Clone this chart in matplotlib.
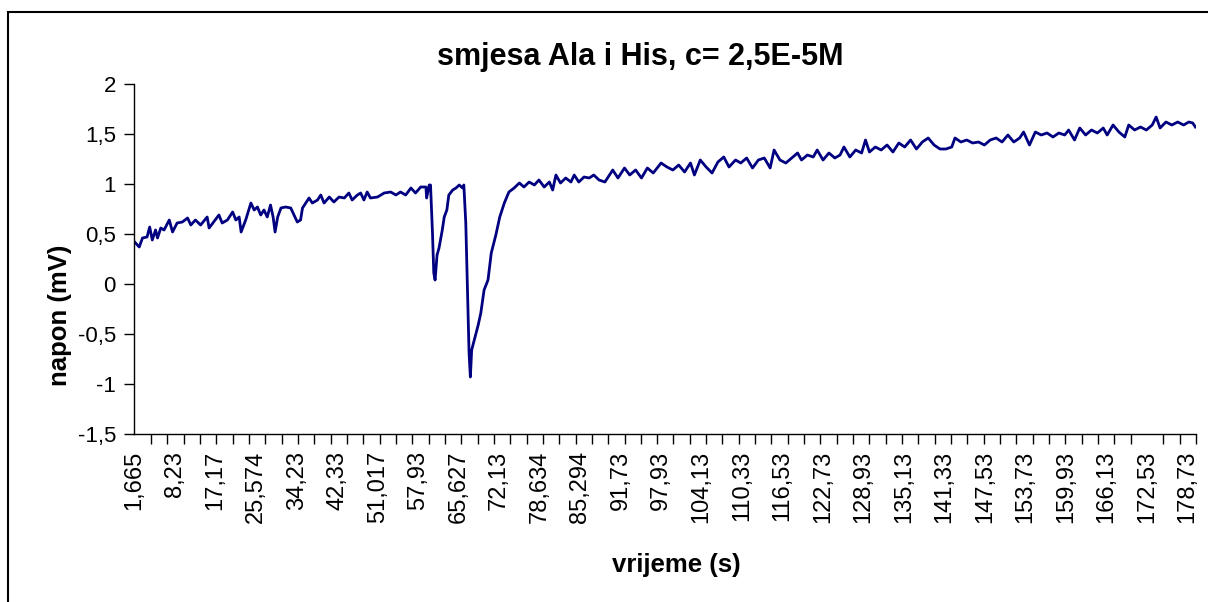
import matplotlib
matplotlib.use('Agg')
import matplotlib.pyplot as plt
from matplotlib.patches import Rectangle
from matplotlib.ticker import FixedLocator, MultipleLocator

plt.rcParams['font.family'] = ['Liberation Sans', 'DejaVu Sans']

# x axis is a category axis: one category per sample
n_samples = 1625
label_every = 62
tick_every = 25

time_labels = ['1,665', '8,23', '17,17', '25,574', '34,23', '42,33', '51,017',
               '57,93', '65,627', '72,13', '78,634', '85,294', '91,73', '97,93',
               '104,13', '110,33', '116,53', '122,73', '128,93', '135,13',
               '141,33', '147,53', '153,73', '159,93', '166,13', '172,53',
               '178,73']

# sample index / voltage (mV)
sample_idx = [
    0, 7, 12, 19, 23, 27, 32, 35, 40, 45, 53, 58, 65, 73, 81, 86, 93, 101,
    111, 114, 121, 129, 134, 142, 150, 155, 160, 163, 170, 178, 183, 188, 193,
    198, 203, 208, 212, 215, 219, 224, 231, 239, 244, 249, 254, 257, 262, 267,
    272, 280, 285, 290, 298, 305, 313, 321, 328, 333, 341, 346, 351, 356, 361,
    372, 382, 392, 400, 407, 415, 423, 430, 438, 446, 447, 451, 453, 456, 458,
    460, 463, 466, 471, 474, 478, 481, 487, 492, 497, 502, 504, 507, 510, 512,
    514, 516, 520, 526, 530, 535, 541, 546, 553, 559, 566, 573, 581, 589, 596,
    604, 612, 619, 627, 635, 640, 645, 652, 660, 668, 673, 680, 688, 696, 703,
    711, 720, 732, 740, 750, 758, 767, 776, 785, 794, 806, 815, 824, 833, 842,
    851, 857, 866, 875, 884, 893, 902, 910, 920, 928, 937, 946, 955, 964, 973,
    979, 988, 997, 1006, 1015, 1021, 1030, 1039, 1045, 1054, 1063, 1072, 1080,
    1086, 1095, 1104, 1113, 1119, 1125, 1134, 1143, 1152, 1161, 1170, 1179,
    1188, 1197, 1206, 1215, 1224, 1233, 1242, 1251, 1256, 1265, 1274, 1283,
    1292, 1301, 1310, 1319, 1328, 1337, 1346, 1355, 1361, 1370, 1379, 1388,
    1397, 1406, 1415, 1424, 1430, 1439, 1447, 1456, 1465, 1474, 1483, 1489,
    1498, 1507, 1516, 1522, 1531, 1540, 1549, 1558, 1564, 1570, 1579, 1588,
    1597, 1606, 1614, 1620, 1624]
voltage = [
    0.42, 0.37, 0.46, 0.47, 0.57, 0.44, 0.54, 0.46, 0.56, 0.54, 0.64, 0.52,
    0.61, 0.62, 0.66, 0.59, 0.64, 0.59, 0.67, 0.56, 0.62, 0.69, 0.61, 0.64,
    0.72, 0.64, 0.67, 0.52, 0.64, 0.81, 0.74, 0.77, 0.69, 0.74, 0.67, 0.79,
    0.67, 0.52, 0.67, 0.76, 0.77, 0.76, 0.69, 0.62, 0.64, 0.76, 0.81, 0.86,
    0.81, 0.84, 0.89, 0.81, 0.87, 0.82, 0.87, 0.86, 0.91, 0.84, 0.89, 0.91,
    0.84, 0.92, 0.86, 0.87, 0.91, 0.92, 0.89, 0.92, 0.89, 0.96, 0.91, 0.97,
    0.97, 0.86, 0.99, 0.99, 0.51, 0.11, 0.04, 0.29, 0.36, 0.54, 0.67, 0.74,
    0.89, 0.94, 0.96, 0.99, 0.96, 0.99, 0.61, -0.16, -0.69, -0.93, -0.66,
    -0.56, -0.41, -0.29, -0.06, 0.04, 0.31, 0.49, 0.67, 0.81, 0.92, 0.96,
    1.01, 0.97, 1.02, 0.99, 1.04, 0.97, 1.02, 0.94, 1.09, 1.01, 1.06, 1.02,
    1.09, 1.02, 1.07, 1.06, 1.09, 1.04, 1.02, 1.14, 1.06, 1.16, 1.09, 1.14,
    1.06, 1.16, 1.11, 1.21, 1.17, 1.14, 1.19, 1.12, 1.21, 1.09, 1.24, 1.17,
    1.11, 1.22, 1.27, 1.17, 1.24, 1.21, 1.26, 1.16, 1.24, 1.26, 1.16, 1.34,
    1.24, 1.21, 1.26, 1.31, 1.24, 1.29, 1.27, 1.34, 1.24, 1.31, 1.26, 1.29,
    1.37, 1.27, 1.34, 1.31, 1.44, 1.32, 1.37, 1.34, 1.39, 1.32, 1.41, 1.37,
    1.44, 1.35, 1.42, 1.46, 1.39, 1.35, 1.35, 1.37, 1.46, 1.42, 1.44, 1.41,
    1.42, 1.39, 1.44, 1.46, 1.42, 1.49, 1.42, 1.46, 1.52, 1.39, 1.52, 1.49,
    1.51, 1.47, 1.51, 1.49, 1.54, 1.44, 1.56, 1.49, 1.54, 1.51, 1.56, 1.49,
    1.59, 1.52, 1.47, 1.59, 1.54, 1.57, 1.54, 1.59, 1.67, 1.56, 1.62, 1.59,
    1.62, 1.59, 1.62, 1.61, 1.57]

y_ticks = [-1.5, -1, -0.5, 0, 0.5, 1, 1.5, 2]
y_tick_labels = ['-1,5', '-1', '-0,5', '0', '0,5', '1', '1,5', '2']

fig = plt.figure(figsize=(12.08, 6.02), dpi=100)
ax = fig.add_axes([134 / 1208, 1 - 434 / 602, 1062 / 1208, 350 / 602])

ax.plot(sample_idx, voltage, color='#000080', lw=2, solid_joinstyle='round')

ax.set_xlim(-1, n_samples)
ax.set_ylim(-1.5, 2)

ax.set_yticks(y_ticks)
ax.set_yticklabels(y_tick_labels, fontsize=16)
ax.tick_params(axis='y', direction='out', length=7, width=1, pad=6)

label_pos = [i * label_every for i in range(len(time_labels))]
ax.xaxis.set_major_locator(FixedLocator(label_pos))
ax.set_xticklabels(time_labels, rotation=90, fontsize=17)
ax.xaxis.set_minor_locator(MultipleLocator(tick_every))
ax.tick_params(axis='x', which='major', length=0, pad=12)
ax.tick_params(axis='x', which='minor', direction='out', length=7, width=1)

for side in ['top', 'right']:
    ax.spines[side].set_visible(False)
for side in ['left', 'bottom']:
    ax.spines[side].set_linewidth(1)

fig.text(640 / 1208, 1 - 57 / 602, 'smjesa Ala i His, c= 2,5E-5M',
         fontsize=22, fontweight='bold', ha='center', va='center')
fig.text(60 / 1208, 1 - 315 / 602, 'napon (mV)', fontsize=18.5,
         fontweight='bold', rotation=90, ha='center', va='center')
fig.text(676 / 1208, 1 - 565 / 602, 'vrijeme (s)', fontsize=18.5,
         fontweight='bold', ha='center', va='center')

# chart area border (cut off at the right and bottom)
fig.patches.append(Rectangle((8 / 1208, -0.1), 1.2, 1.1 - 12 / 602,
                             transform=fig.transFigure, fill=False,
                             edgecolor='black', lw=1.5))

fig.savefig('out.png', dpi=100)
